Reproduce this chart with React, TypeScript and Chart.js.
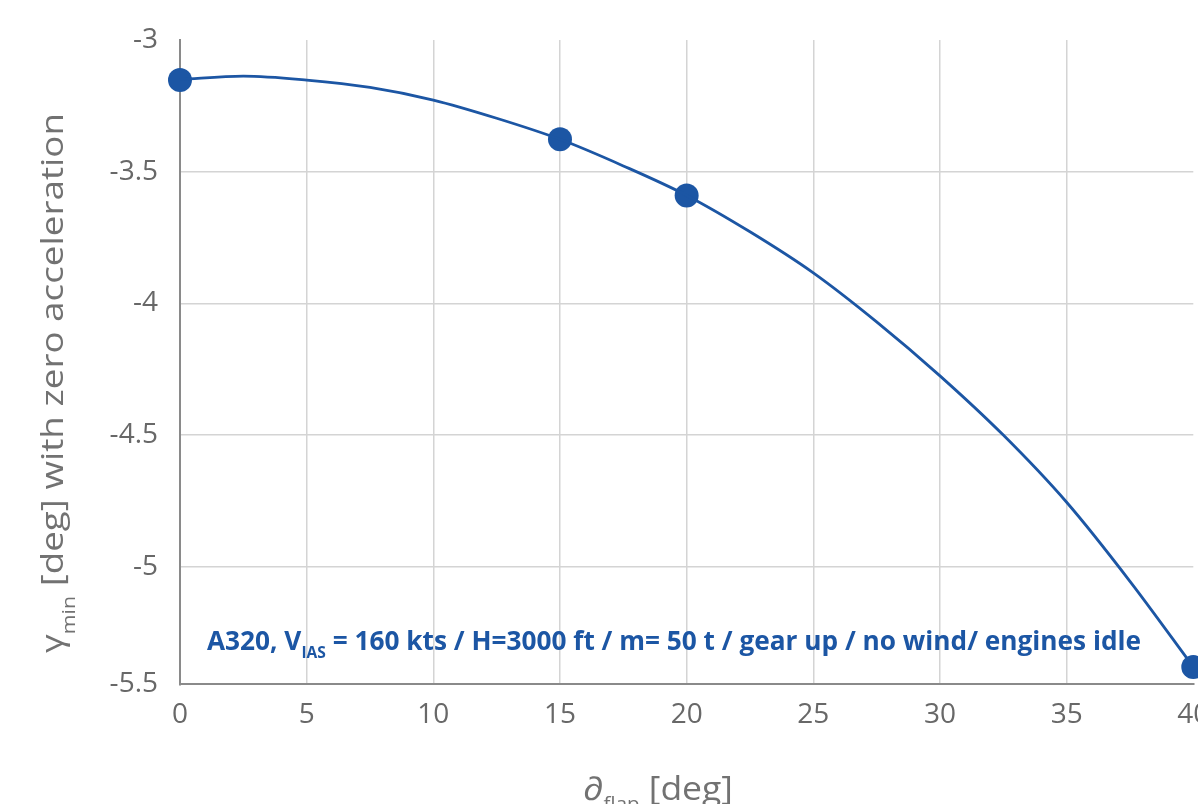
import React, { useEffect, useRef } from 'react';
import { Chart, registerables } from 'chart.js';

Chart.register(...registerables);

// Measured data points (flap angle [deg] -> gamma_min [deg])
const flapAngles = [0, 15, 20, 40];
const gammaMin = [-3.152, -3.377, -3.59, -5.38];

// Trend curve
const trendX = [0, 2.5, 5, 7.5, 10, 12.5, 15, 17.5, 20, 22.5, 25, 27.5, 30, 32.5, 35, 37.5, 40];
const trendY = [-3.15, -3.137, -3.152, -3.18, -3.228, -3.297, -3.377, -3.478, -3.59, -3.728, -3.884, -4.07, -4.275, -4.5, -4.755, -5.055, -5.38];

// Axis ticks
const xTickValues = [0, 5, 10, 15, 20, 25, 30, 35, 40];
const yTickValues = [-5.446, -5, -4.5, -4, -3.5, -3];
const yTickLabels = ['-5.5', '-5', '-4.5', '-4', '-3.5', '-3'];

// Texts
const annotationParts = ['A320, V', 'IAS', ' = 160 kts / H=3000 ft / m= 50 t / gear up / no wind/ engines idle'];
const yTitleParts = ['γ', 'min', ' [deg] with zero acceleration'];
const xTitleParts = ['∂', 'flap', ' [deg]'];

const BLUE = '#1c56a4';
const GREY_TEXT = '#686868';
const TITLE_GREY = '#727272';

type Part = { text: string; font: string; dy: number };

function drawRich(ctx: CanvasRenderingContext2D, parts: Part[], targetWidth: number, color: string) {
  let total = 0;
  const widths: number[] = [];
  for (const p of parts) {
    ctx.font = p.font;
    const w = ctx.measureText(p.text).width;
    widths.push(w);
    total += w;
  }
  const sx = targetWidth / total;
  ctx.save();
  ctx.scale(sx, 1);
  ctx.fillStyle = color;
  ctx.textBaseline = 'alphabetic';
  ctx.textAlign = 'left';
  let x = 0;
  parts.forEach((p, i) => {
    ctx.font = p.font;
    ctx.fillText(p.text, x, p.dy);
    x += widths[i];
  });
  ctx.restore();
}

const textPlugin = {
  id: 'richTexts',
  afterDraw(chart: any) {
    const ctx: CanvasRenderingContext2D = chart.ctx;
    const area = chart.chartArea;
    // annotation
    ctx.save();
    ctx.translate(area.left + 27, area.bottom - 34);
    drawRich(
      ctx,
      [
        { text: annotationParts[0], font: 'bold 27px "Open Sans"', dy: 0 },
        { text: annotationParts[1], font: 'bold 16px "Open Sans"', dy: 8 },
        { text: annotationParts[2], font: 'bold 27px "Open Sans"', dy: 0 },
      ],
      934,
      BLUE
    );
    ctx.restore();

    // y title (rotated)
    ctx.save();
    ctx.translate(63, 653);
    ctx.rotate(-Math.PI / 2);
    drawRich(
      ctx,
      [
        { text: yTitleParts[0], font: '31px "Open Sans"', dy: 0 },
        { text: yTitleParts[1], font: '18px "Open Sans"', dy: 12 },
        { text: yTitleParts[2], font: '31px "Open Sans"', dy: 0 },
      ],
      540,
      TITLE_GREY
    );
    ctx.restore();

    // x title
    ctx.save();
    ctx.translate(583, 800);
    drawRich(
      ctx,
      [
        { text: xTitleParts[0], font: '33px "Open Sans"', dy: 0 },
        { text: xTitleParts[1], font: '19px "Open Sans"', dy: 10 },
        { text: xTitleParts[2], font: '33px "Open Sans"', dy: 0 },
      ],
      150,
      TITLE_GREY
    );
    ctx.restore();
  },
};

export default function App() {
  const canvasRef = useRef<HTMLCanvasElement | null>(null);

  useEffect(() => {
    if (!canvasRef.current) return;
    const chart = new Chart(canvasRef.current, {
      type: 'line',
      data: {
        datasets: [
          {
            label: 'trend',
            data: trendX.map((x, i) => ({ x, y: trendY[i] })),
            borderColor: BLUE,
            borderWidth: 2.8,
            pointRadius: 0,
            cubicInterpolationMode: 'monotone',
            fill: false,
            clip: false,
          } as any,
          {
            label: 'points',
            data: flapAngles.map((x, i) => ({ x, y: gammaMin[i] })),
            showLine: false,
            pointRadius: 12,
            pointBackgroundColor: BLUE,
            pointBorderColor: BLUE,
            pointBorderWidth: 0,
            clip: false,
          } as any,
        ],
      },
      options: {
        animation: false,
        responsive: false,
        maintainAspectRatio: false,
        devicePixelRatio: 1,
        layout: {
          autoPadding: false,
          padding: { top: 40, left: 0, right: 46.7, bottom: 0 },
        } as any,
        plugins: {
          legend: { display: false },
          tooltip: { enabled: false },
        },
        scales: {
          x: {
            type: 'linear',
            min: 0,
            max: 40,
            afterFit(scale: any) {
              scale.height = 840 - 684.3;
            },
            afterBuildTicks(scale: any) {
              scale.ticks = xTickValues.map((v) => ({ value: v }));
            },
            grid: {
              drawTicks: false,
              lineWidth: 1.5,
              color: (c: any) =>
                c.tick && (c.tick.value === 0 || c.tick.value === 40) ? 'rgba(0,0,0,0)' : '#d4d4d4',
            },
            border: { display: true, color: '#8a8a8a', width: 2 },
            ticks: {
              padding: 14,
              color: GREY_TEXT,
              font: { family: '"Open Sans"', size: 28 },
              maxRotation: 0,
              autoSkip: false,
              callback: (v: any) => String(v),
            },
            title: { display: false },
          },
          y: {
            type: 'linear',
            min: -5.446,
            max: -3,
            afterFit(scale: any) {
              scale.width = 180;
            },
            afterBuildTicks(scale: any) {
              scale.ticks = yTickValues.map((v) => ({ value: v }));
            },
            grid: {
              drawTicks: false,
              lineWidth: 1.5,
              color: (c: any) =>
                c.tick && (c.tick.value === -3 || c.tick.value === -5.446) ? 'rgba(0,0,0,0)' : '#d4d4d4',
            },
            border: { display: true, color: '#8a8a8a', width: 2 },
            ticks: {
              padding: 22,
              color: GREY_TEXT,
              font: { family: '"Open Sans"', size: 28 },
              autoSkip: false,
              callback: (_v: any, i: number) => yTickLabels[i],
            },
            title: { display: false },
          },
        },
      },
      plugins: [textPlugin],
    });
    return () => chart.destroy();
  }, []);

  return (
    <div
      style={{
        position: 'fixed',
        left: 0,
        top: 0,
        width: 1198,
        height: 804,
        overflow: 'hidden',
        background: '#ffffff',
      }}
    >
      <canvas ref={canvasRef} width={1240} height={840} style={{ display: 'block', width: 1240, height: 840 }} />
    </div>
  );
}
